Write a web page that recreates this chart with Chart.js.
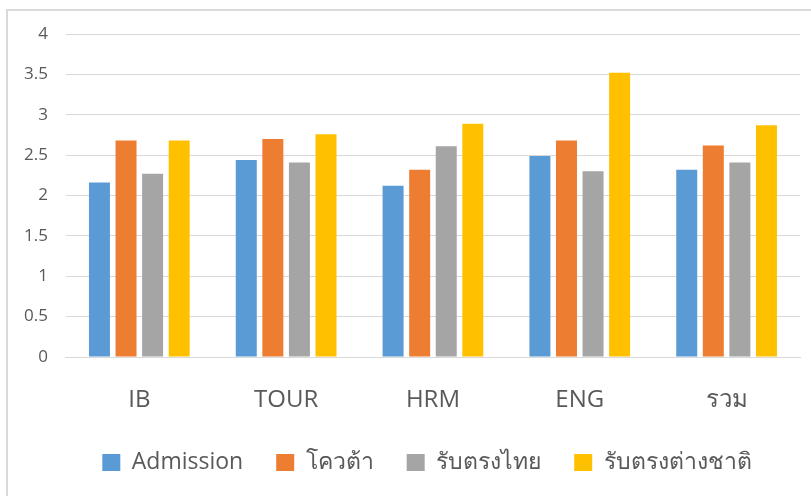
<!DOCTYPE html>
<html>
<head>
<meta charset="utf-8">
<script src="https://cdn.jsdelivr.net/npm/chart.js@4.4.0/dist/chart.umd.min.js"></script>
<style>
  html, body { margin: 0; padding: 0; background: #fff; }
  #wrap { width: 811px; height: 496px; position: relative; }
</style>
</head>
<body>
<div id="wrap"><canvas id="c" width="811" height="496"></canvas></div>
<script>
const categories = ['IB', 'TOUR', 'HRM', 'ENG', 'รวม'];
const seriesNames = ['Admission', 'โควต้า', 'รับตรงไทย', 'รับตรงต่างชาติ'];
const admission = [2.16, 2.44, 2.12, 2.49, 2.32];
const quota = [2.68, 2.70, 2.32, 2.68, 2.62];
const directThai = [2.27, 2.41, 2.61, 2.30, 2.41];
const directForeign = [2.68, 2.76, 2.89, 3.52, 2.87];
const yTicks = [0, 0.5, 1, 1.5, 2, 2.5, 3, 3.5, 4];

const colors = ['#5b9bd5', '#ed7d31', '#a5a5a5', '#ffc000'];
const FONT = "'Open Sans', 'Noto Sans', 'DejaVu Sans', sans-serif";

const frame = {
  id: 'frame',
  beforeDraw(chart) {
    const ctx = chart.ctx;
    ctx.save();
    ctx.fillStyle = '#fff';
    ctx.fillRect(0, 0, chart.width, chart.height);
    ctx.strokeStyle = '#d9d9d9';
    ctx.lineWidth = 2;
    ctx.beginPath();
    ctx.moveTo(7, 496);
    ctx.lineTo(7, 10);
    ctx.lineTo(811, 10);
    ctx.stroke();
    ctx.restore();
  }
};

const legendShift = {
  id: 'legendShift',
  afterLayout(chart) {
    if (chart.legend) {
      chart.legend.left += 24;
      chart.legend.right += 24;
    }
  }
};

new Chart(document.getElementById('c'), {
  type: 'bar',
  data: {
    labels: categories,
    datasets: [admission, quota, directThai, directForeign].map((d, i) => ({
      label: seriesNames[i],
      data: d,
      backgroundColor: colors[i],
      borderWidth: 0,
      categoryPercentage: 0.724,
      barPercentage: 0.79
    }))
  },
  options: {
    responsive: false,
    animation: false,
    devicePixelRatio: 1,
    layout: { padding: { left: 6, right: 11, top: 34, bottom: 12 } },
    plugins: {
      tooltip: { enabled: false },
      legend: {
        position: 'bottom',
        labels: {
          boxWidth: 18,
          boxHeight: 17,
          padding: 33,
          color: '#595959',
          font: { family: FONT, size: 23 }
        }
      }
    },
    scales: {
      x: {
        grid: { display: false, drawTicks: false },
        border: { color: '#d9d9d9', width: 1 },
        ticks: { color: '#595959', padding: 29, font: { family: FONT, size: 24 } },
        afterFit(axis) { axis.height = 61; }
      },
      y: {
        min: 0, max: 4,
        afterBuildTicks(axis) { axis.ticks = yTicks.map(v => ({ value: v })); },
        grid: { color: '#d9d9d9', lineWidth: 1, drawTicks: false },
        border: { display: false },
        ticks: {
          color: '#595959', padding: 18, font: { family: FONT, size: 17 },
          callback: (v) => String(v)
        }
      }
    }
  },
  plugins: [frame, legendShift]
});
</script>
</body>
</html>
